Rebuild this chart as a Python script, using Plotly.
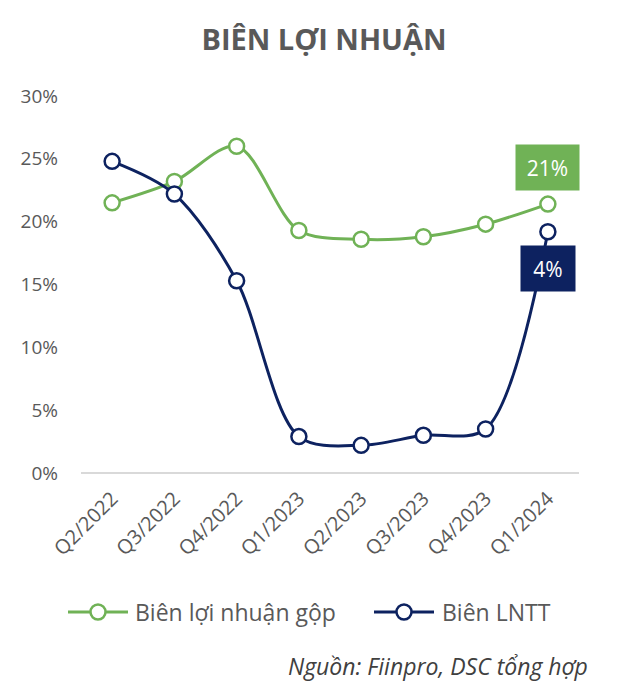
import plotly.graph_objects as go

categories = ["Q2/2022", "Q3/2022", "Q4/2022", "Q1/2023", "Q2/2023", "Q3/2023", "Q4/2023", "Q1/2024"]
gross_margin = [21.5, 23.2, 26.0, 19.3, 18.6, 18.8, 19.8, 21.4]
pretax_margin = [24.8, 22.2, 15.3, 2.9, 2.2, 3.0, 3.5, 19.2]
series_names = ["Biên lợi nhuận gộp", "Biên LNTT"]
gross_label = "21%"
pretax_label = "4%"
y_ticks = [0, 5, 10, 15, 20, 25, 30]
y_tick_text = ["0%", "5%", "10%", "15%", "20%", "25%", "30%"]

GREEN = "#70B256"
NAVY = "#0D2260"
FONT = "Open Sans"
TEXT = "#595959"

W, H = 628, 692
L, R, T, B = 73, 57, 88, 227
PW, PH = W - L - R, H - T - B
OFF = 8  # page body offset


def px2x(px):
    return (px - OFF - L) / PW


def py2y(py):
    return (H - B - (py - OFF)) / PH


fig = go.Figure()
colors = [GREEN, NAVY]
for vals, name, col in zip([gross_margin, pretax_margin], series_names, colors):
    fig.add_trace(go.Scatter(
        x=categories, y=vals, name=name, mode="lines+markers",
        line=dict(color=col, width=3, shape="spline", smoothing=0.9),
        marker=dict(size=15, color="white", line=dict(color=col, width=2.5)),
        showlegend=False,
    ))

fig.add_annotation(x=categories[-1], y=gross_margin[-1], xref="x", yref="y",
                   text=gross_label, showarrow=False, yshift=37,
                   bgcolor=GREEN, width=61, height=43,
                   font=dict(family=FONT, size=21, color="white"))
fig.add_annotation(x=categories[-1], y=pretax_margin[-1], xref="x", yref="y",
                   text=pretax_label, showarrow=False, yshift=-37,
                   bgcolor=NAVY, width=52, height=43,
                   font=dict(family=FONT, size=21, color="white"))

# manual legend
legend_y = py2y(612)
legend_items = [(68, 128, 133), (374, 434, 440)]
for (lx0, lx1, tx), name, col in zip(legend_items, series_names, colors):
    fig.add_shape(type="line", xref="paper", yref="paper",
                  x0=px2x(lx0), x1=px2x(lx1), y0=legend_y, y1=legend_y,
                  line=dict(color=col, width=3))
    fig.add_shape(type="circle", xref="paper", yref="paper",
                  xsizemode="pixel", ysizemode="pixel",
                  xanchor=px2x((lx0 + lx1) / 2), yanchor=legend_y,
                  x0=-7.5, x1=7.5, y0=-7.5, y1=7.5,
                  fillcolor="white", line=dict(color=col, width=2.5))
    fig.add_annotation(x=px2x(tx), y=legend_y, xref="paper", yref="paper",
                       xanchor="left", yanchor="middle", showarrow=False,
                       text=name, font=dict(family=FONT, size=23, color=TEXT))

fig.add_annotation(x=px2x(590), y=py2y(666), xref="paper", yref="paper",
                   xanchor="right", yanchor="middle", showarrow=False,
                   text="<i>Nguồn: Fiinpro, DSC tổng hợp</i>",
                   font=dict(family=FONT, size=23, color="#404040"))

fig.update_layout(
    width=W, height=H,
    paper_bgcolor="white", plot_bgcolor="white",
    margin=dict(l=L, r=R, t=T, b=B),
    title=dict(text="<b>BIÊN LỢI NHUẬN</b>", x=(324 - OFF) / W, xanchor="center",
               y=1 - 32 / H, yanchor="middle",
               font=dict(family=FONT, size=29, color=TEXT)),
    font=dict(family=FONT, color=TEXT),
    showlegend=False,
    xaxis=dict(tickangle=-45, tickfont=dict(size=20, color=TEXT), automargin=False,
               range=[-0.5, len(categories) - 0.5], ticklabelstandoff=9,
               showgrid=False, showline=False, ticks="", zeroline=False),
    yaxis=dict(range=[0, 30], tickvals=y_ticks, ticktext=y_tick_text, automargin=False,
               tickfont=dict(size=19, color=TEXT), showgrid=False,
               zeroline=True, zerolinecolor="#D9D9D9", zerolinewidth=2,
               showline=False, ticks="", ticklabelstandoff=22),
)

fig.write_html("out.html")
